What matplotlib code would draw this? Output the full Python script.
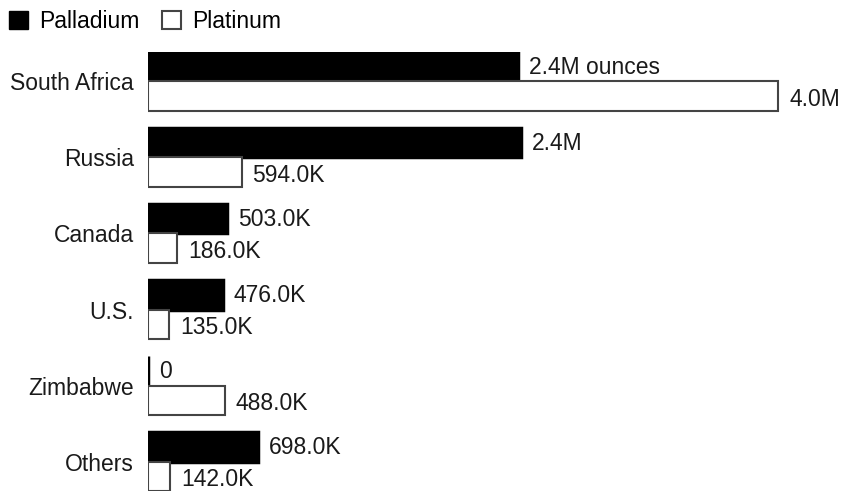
import matplotlib
matplotlib.use("Agg")
import matplotlib.pyplot as plt
import numpy as np
from matplotlib.patches import Patch

plt.rcParams["font.family"] = ["Liberation Sans", "DejaVu Sans"]

countries = ["South Africa", "Russia", "Canada", "U.S.", "Zimbabwe", "Others"]
palladium = [2.35e6, 2.37e6, 503e3, 476e3, 0, 698e3]
platinum = [4.0e6, 594e3, 186e3, 135e3, 488e3, 142e3]


def fmt(v: float) -> str:
    if v == 0:
        return "0"
    if v >= 1e6:
        return f"{v / 1e6:.1f}M"
    return f"{v / 1e3:.1f}K"


fig = plt.figure(figsize=(8.43, 4.94), dpi=100)
ax = fig.add_axes([148 / 843, 1 - 491 / 494, 1 - 148 / 843, (491 - 52) / 494])

y = np.arange(len(countries))
h = 29 / 75
ax.barh(y - h / 2, palladium, height=h, color="black", edgecolor="black", linewidth=2.5)
ax.barh(y + h / 2, platinum, height=h, color="white", edgecolor="#444444", linewidth=1.5)

fs = 16.5
for i, (pd_v, pt_v) in enumerate(zip(palladium, platinum)):
    lab = fmt(pd_v)
    if i == 0:
        lab += " ounces"
    ax.text(pd_v + 0.07e6, i - h / 2 + 0.01, lab, va="center", ha="left", fontsize=fs, color="#1a1a1a")
    ax.text(pt_v + 0.07e6, i + h / 2 + 0.04, fmt(pt_v), va="center", ha="left", fontsize=fs, color="#1a1a1a")

ax.set_xlim(0, 4.0e6 * (843 - 148) / 630)
ax.set_ylim(len(countries) - 1 + h, -h)
ax.set_yticks(y)
ax.set_yticklabels(countries, fontsize=fs, color="#1a1a1a")
ax.tick_params(axis="y", length=0, pad=10)
ax.set_xticks([])
for s in ax.spines.values():
    s.set_visible(False)

handles = [
    Patch(facecolor="black", edgecolor="black", label="Palladium"),
    Patch(facecolor="white", edgecolor="#444444", linewidth=1.5, label="Platinum"),
]
fig.legend(handles=handles, loc="upper left", bbox_to_anchor=(-0.008, 1.012), ncol=2, frameon=False,
           fontsize=fs, handlelength=0.8, handleheight=0.8, handletextpad=0.5, columnspacing=1.0,
           borderaxespad=0.3)

fig.savefig("out.png", dpi=100, facecolor="white")
